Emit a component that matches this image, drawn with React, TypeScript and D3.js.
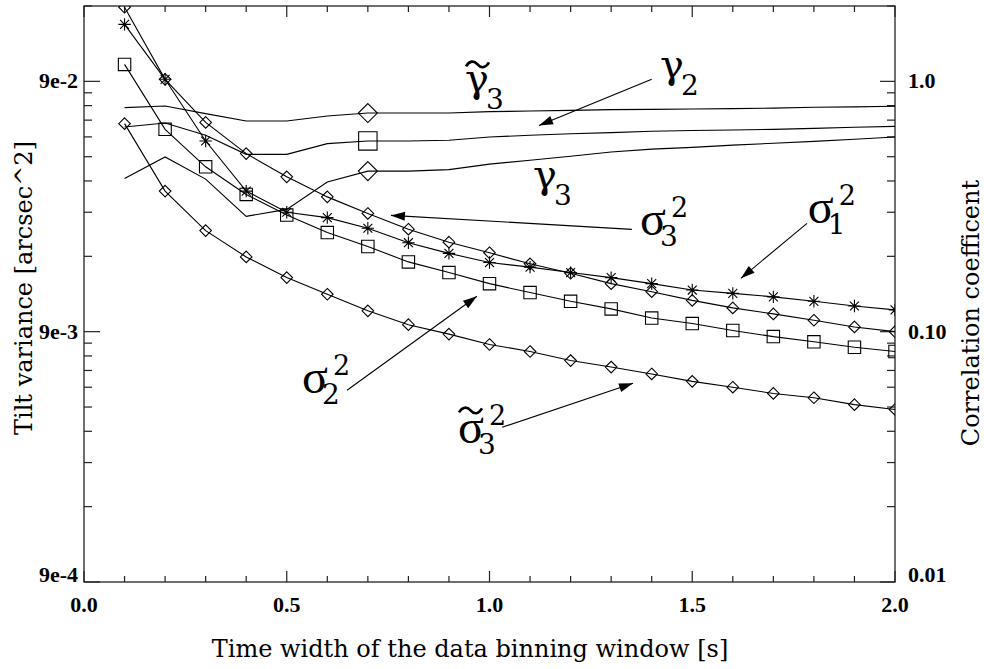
import React from "react";
import * as d3 from "d3";

// ---- data ----
const binWidths = [0.1, 0.2, 0.3, 0.4, 0.5, 0.6, 0.7, 0.8, 0.9, 1.0, 1.1, 1.2, 1.3, 1.4, 1.5, 1.6, 1.7, 1.8, 1.9, 2.0];

// tilt variances [arcsec^2] (left axis)
const sigma3Sq = [0.178, 0.0917, 0.0617, 0.0463, 0.0374, 0.0311, 0.0267, 0.0231, 0.0205, 0.0186, 0.0168, 0.0154, 0.0140, 0.0130, 0.0120, 0.0112, 0.0106, 0.0100, 0.0094, 0.0090];
const sigma1Sq = [0.152, 0.0917, 0.0520, 0.0328, 0.0270, 0.0257, 0.0233, 0.0204, 0.0185, 0.0170, 0.0163, 0.0155, 0.0148, 0.0140, 0.0132, 0.0128, 0.0124, 0.0119, 0.0114, 0.0110];
const sigma2Sq = [0.1052, 0.0579, 0.0410, 0.0318, 0.0263, 0.0224, 0.0197, 0.0171, 0.0155, 0.0140, 0.0129, 0.0119, 0.0111, 0.0102, 0.0097, 0.0091, 0.0086, 0.0082, 0.0078, 0.0075];
const sigma3TildeSq = [0.0610, 0.0328, 0.0228, 0.0179, 0.0148, 0.0127, 0.0109, 0.0096, 0.0088, 0.0080, 0.0075, 0.0069, 0.0065, 0.0061, 0.0057, 0.0054, 0.0051, 0.0049, 0.0046, 0.0044];

// correlation coefficients (right axis)
const gamma3Tilde = [0.785, 0.797, 0.743, 0.694, 0.694, 0.727, 0.747, 0.747, 0.747, 0.757, 0.761, 0.766, 0.771, 0.773, 0.775, 0.778, 0.782, 0.788, 0.791, 0.795];
const gamma2 = [0.657, 0.682, 0.609, 0.511, 0.511, 0.564, 0.578, 0.578, 0.582, 0.599, 0.609, 0.618, 0.624, 0.632, 0.636, 0.639, 0.643, 0.649, 0.656, 0.661];
const gamma3 = [0.409, 0.499, 0.407, 0.289, 0.308, 0.396, 0.438, 0.438, 0.444, 0.467, 0.484, 0.502, 0.522, 0.536, 0.545, 0.556, 0.566, 0.576, 0.587, 0.599];
const corrMarkerAt = 0.7;

// ticks
const xMajorTicks = [0, 0.5, 1.0, 1.5, 2.0];
const xTickLabels = ["0.0", "0.5", "1.0", "1.5", "2.0"];
const xMinorStep = 0.1;
const yLeftMajor = [9e-4, 9e-3, 9e-2];
const yLeftLabels = ["9e-4", "9e-3", "9e-2"];
const yRightMajor = [0.01, 0.1, 1.0];
const yRightLabels = ["0.01", "0.10", "1.0"];

// annotations (data coordinates: x = bin width, y = left-axis value)
const annotations = [
  { main: "γ", sub: "3", sup: "", tilde: true, at: [0.9396, 0.0813], kind: "gamma" },
  { main: "γ", sub: "2", sup: "", tilde: false, at: [1.4205, 0.0925], kind: "gamma" },
  { main: "γ", sub: "3", sup: "", tilde: false, at: [1.107, 0.0339], kind: "gamma" },
  { main: "σ", sub: "3", sup: "2", tilde: false, at: [1.371, 0.02182], kind: "sigma" },
  { main: "σ", sub: "1", sup: "2", tilde: false, at: [1.785, 0.02438], kind: "sigma" },
  { main: "σ", sub: "2", sup: "2", tilde: false, at: [0.5376, 0.0051], kind: "sigma" },
  { main: "σ", sub: "3", sup: "2", tilde: true, at: [0.9223, 0.00322], kind: "sigma" },
];
const arrows = [
  { from: [1.40, 0.0917], to: [1.122, 0.0600] },
  { from: [1.351, 0.02307], to: [0.757, 0.02623] },
  { from: [1.783, 0.02438], to: [1.620, 0.0147] },
  { from: [0.6486, 0.00525], to: [0.969, 0.01246] },
  { from: [1.031, 0.003733], to: [1.354, 0.0056] },
];

const W = 984, H = 669;
const L = 84, R = 895, T = 6, B = 582;

const diamond = (cx: number, cy: number, r: number) =>
  `M${cx},${cy - r}L${cx + r},${cy}L${cx},${cy + r}L${cx - r},${cy}Z`;
const square = (cx: number, cy: number, r: number) =>
  `M${cx - r},${cy - r}h${2 * r}v${2 * r}h${-2 * r}Z`;
const asterisk = (cx: number, cy: number, r: number) => {
  const d = r * 0.72;
  return `M${cx},${cy - r}V${cy + r}M${cx - r},${cy}H${cx + r}M${cx - d},${cy - d}L${cx + d},${cy + d}M${cx - d},${cy + d}L${cx + d},${cy - d}`;
};
const tildePath = (x0: number, y: number, w: number) =>
  `M${x0},${y + 2}C${x0 + w * 0.15},${y - 4} ${x0 + w * 0.35},${y - 4} ${x0 + w * 0.5},${y}S${x0 + w * 0.85},${y + 4} ${x0 + w},${y - 2}`;

export default function App() {
  const x = d3.scaleLinear().domain([0, 2]).range([L, R]);
  const yL = d3.scaleLog().domain([9e-4, 0.18]).range([B, T]);
  const yR = d3.scaleLog().domain([0.01, 2.0]).range([B, T]);

  const lineL = d3.line<number>().x((_, i) => x(binWidths[i])).y((v) => yL(v));
  const lineR = d3.line<number>().x((_, i) => x(binWidths[i])).y((v) => yR(v));

  const xMinor = d3.range(0, 2 + 1e-9, xMinorStep).filter((t) => !xMajorTicks.some((m) => Math.abs(m - t) < 1e-6));
  const yLMinor: number[] = [];
  yLeftMajor.forEach((m) => {
    for (let k = 2; k <= 9; k++) if (m * k <= 0.18 * 1.0001) yLMinor.push(m * k);
  });
  const yRMinor: number[] = [];
  yRightMajor.forEach((m) => {
    for (let k = 2; k <= 9; k++) if (m * k <= 2.0 * 1.0001) yRMinor.push(m * k);
  });

  const varianceSeries = [
    { values: sigma3Sq, marker: "diamond" },
    { values: sigma1Sq, marker: "star" },
    { values: sigma2Sq, marker: "square" },
    { values: sigma3TildeSq, marker: "diamond" },
  ];
  const corrSeries = [
    { values: gamma3Tilde, marker: "diamond" },
    { values: gamma2, marker: "square" },
    { values: gamma3, marker: "diamond" },
  ];
  const mIdx = binWidths.findIndex((b) => Math.abs(b - corrMarkerAt) < 1e-6);

  const markerPath = (m: string, cx: number, cy: number, big = false) => {
    if (m === "diamond") return diamond(cx, cy, big ? 9.5 : 5.8);
    if (m === "square") return square(cx, cy, big ? 9.2 : 6.2);
    return asterisk(cx, cy, 6.2);
  };

  const tickFont = { fontFamily: "'Liberation Serif', 'Times New Roman', serif", fontWeight: 700, fontSize: 22 };
  const titleFont = { fontFamily: "'DejaVu Serif', serif", fontSize: 24 };
  const sigmaFont = "'Liberation Serif', serif";
  const gammaFont = "'DejaVu Serif', serif";
  const digitFont = "'DejaVu Serif', serif";

  const arrowHead = (x1: number, y1: number, x2: number, y2: number) => {
    const ang = Math.atan2(y2 - y1, x2 - x1);
    const len = 14, half = 4.5;
    const bx = x2 - len * Math.cos(ang), by = y2 - len * Math.sin(ang);
    const px = -Math.sin(ang) * half, py = Math.cos(ang) * half;
    return `M${x2},${y2}L${bx + px},${by + py}L${bx - px},${by - py}Z`;
  };

  return (
    <svg width={W} height={H} style={{ position: "absolute", left: 0, top: 0, background: "#fff" }}>
      <defs>
        <clipPath id="plotClip">
          <rect x={L} y={T} width={R - L} height={B - T} />
        </clipPath>
      </defs>
      <rect x={0} y={0} width={W} height={H} fill="#fff" />

      {/* frame */}
      <rect x={L} y={T} width={R - L} height={B - T} fill="none" stroke="#222" strokeWidth={1.3} />

      {/* x ticks bottom & top */}
      {xMajorTicks.map((t, i) => (
        <g key={"xm" + i}>
          <line x1={x(t)} x2={x(t)} y1={B} y2={B - 11} stroke="#222" strokeWidth={1.2} />
          <line x1={x(t)} x2={x(t)} y1={T} y2={T + 11} stroke="#222" strokeWidth={1.2} />
          <text x={x(t)} y={612} textAnchor="middle" style={tickFont}>{xTickLabels[i]}</text>
        </g>
      ))}
      {xMinor.map((t, i) => (
        <g key={"xn" + i}>
          <line x1={x(t)} x2={x(t)} y1={B} y2={B - 6} stroke="#222" strokeWidth={1.2} />
          <line x1={x(t)} x2={x(t)} y1={T} y2={T + 6} stroke="#222" strokeWidth={1.2} />
        </g>
      ))}

      {/* left axis ticks */}
      {yLeftMajor.map((v, i) => (
        <g key={"ylm" + i}>
          <line x1={L} x2={L + 16} y1={yL(v)} y2={yL(v)} stroke="#222" strokeWidth={1.2} />
          <text x={78} y={i === 0 ? yL(v) : yL(v) + 7} textAnchor="end" style={tickFont}>{yLeftLabels[i]}</text>
        </g>
      ))}
      {yLMinor.map((v, i) => (
        <line key={"yln" + i} x1={L} x2={L + 8} y1={yL(v)} y2={yL(v)} stroke="#222" strokeWidth={1.2} />
      ))}

      {/* right axis ticks */}
      {yRightMajor.map((v, i) => (
        <g key={"yrm" + i}>
          <line x1={R} x2={R - 15} y1={yR(v)} y2={yR(v)} stroke="#222" strokeWidth={1.2} />
          <text x={908} y={i === 0 ? yR(v) : yR(v) + 7} textAnchor="start" style={tickFont}>{yRightLabels[i]}</text>
        </g>
      ))}
      {yRMinor.map((v, i) => (
        <line key={"yrn" + i} x1={R} x2={R - 8} y1={yR(v)} y2={yR(v)} stroke="#222" strokeWidth={1.2} />
      ))}

      {/* axis titles */}
      <text x={470} y={657} textAnchor="middle" style={titleFont}>Time width of the data binning window [s]</text>
      <text transform={`translate(32,288) rotate(-90)`} textAnchor="middle" style={titleFont}>Tilt variance [arcsec^2]</text>
      <text transform={`translate(979,313) rotate(-90)`} textAnchor="middle" style={titleFont}>Correlation coefficent</text>

      <g clipPath="url(#plotClip)">
        {corrSeries.map((s, si) => (
          <g key={"c" + si}>
            <path d={lineR(s.values) || ""} fill="none" stroke="#000" strokeWidth={1.1} />
            <path d={markerPath(s.marker, x(binWidths[mIdx]), yR(s.values[mIdx]), true)} fill="none" stroke="#000" strokeWidth={1.1} />
          </g>
        ))}
        {varianceSeries.map((s, si) => (
          <g key={"v" + si}>
            <path d={lineL(s.values) || ""} fill="none" stroke="#000" strokeWidth={1.1} />
            {s.values.map((v, i) => (
              <path key={i} d={markerPath(s.marker, x(binWidths[i]), yL(v))} fill="none" stroke="#000" strokeWidth={1.1} />
            ))}
          </g>
        ))}
      </g>

      {/* arrows */}
      {arrows.map((a, i) => {
        const x1 = x(a.from[0]), y1 = yL(a.from[1]), x2 = x(a.to[0]), y2 = yL(a.to[1]);
        return (
          <g key={"a" + i}>
            <line x1={x1} y1={y1} x2={x2} y2={y2} stroke="#000" strokeWidth={1.1} />
            <path d={arrowHead(x1, y1, x2, y2)} fill="#000" />
          </g>
        );
      })}

      {/* greek labels: one text element each, with sub/superscript tspans */}
      {annotations.map((a, i) => {
        const ax = x(a.at[0]), ay = yL(a.at[1]);
        const isSigma = a.kind === "sigma";
        const subDx = isSigma ? 20 : 21;
        const subDy = isSigma ? 11 : 17;
        return (
          <g key={"g" + i}>
            <text x={ax} y={ay} fontFamily={isSigma ? sigmaFont : gammaFont} fontSize={isSigma ? 48 : 40}>
              {a.main}
              <tspan x={ax + subDx} y={ay + subDy} fontFamily={digitFont} fontSize={28}>{a.sub}</tspan>
              {a.sup ? (
                <tspan x={ax + 31} y={ay - 18} fontFamily={digitFont} fontSize={27}>{a.sup}</tspan>
              ) : null}
            </text>
            {a.tilde && (
              <path d={tildePath(ax + 1, isSigma ? ay - 33 : ay - 28, 23)} fill="none" stroke="#000" strokeWidth={2.6} />
            )}
          </g>
        );
      })}
    </svg>
  );
}
